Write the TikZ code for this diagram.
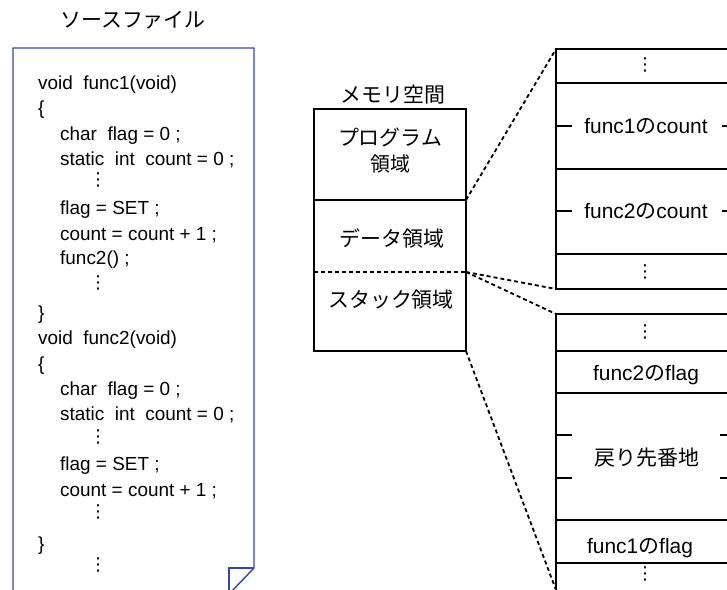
\documentclass[tikz,border=0pt]{standalone}
\usepackage{fontspec}
\setmainfont{Liberation Sans}
\newfontfamily\jp{Noto Sans CJK JP}
\newfontfamily\symf{DejaVu Sans}
\definecolor{pageblue}{RGB}{52,70,170}
\tikzset{
  box/.style={draw, line width=1.5bp},
  conn/.style={line width=1.8bp, dash pattern=on 4bp off 3bp},
  code/.style={anchor=base west, font=\fontsize{19}{19}\selectfont, inner sep=0pt},
  dts/.style={font=\symf\fontsize{18}{18}\selectfont, inner sep=0pt},
  jlabel/.style={font=\jp\fontsize{21}{21}\selectfont, inner sep=0pt},
  jsmall/.style={font=\jp\fontsize{20}{20}\selectfont, inner sep=0pt},
  cell/.style={font=\fontsize{21}{21}\selectfont, inner sep=0pt},
}
\begin{document}
\begin{tikzpicture}[x=1bp,y=-1bp]
\useasboundingbox (0,0) rectangle (727,590);
\clip (0,0) rectangle (727,590);

% source file page
\node[jlabel] (srctitle) at (133,20) {ソースファイル};
\draw[pageblue, line width=1.4bp] (13,600) -- (13,48) -- (254,48) -- (254,568) -- (231,592);
\draw[pageblue, line width=1.4bp] (229,600) -- (229,568) -- (254,568);

\node[code] (c1) at (38,90) {void\ \ func1(void)};
\node[code] (c2) at (38,115) {\{};
\node[code] (c3) at (60,141) {char\ \ flag = 0 ;};
\node[code] (c4) at (60,166) {static\ \ int\ \ count = 0 ;};
\node[dts] (d1) at (98,180) {⋮};
\node[code] (c5) at (60,215) {flag = SET ;};
\node[code] (c6) at (60,240) {count = count + 1 ;};
\node[code] (c7) at (60,264) {func2() ;};
\node[dts] (d2) at (98,283) {⋮};
\node[code] (c8) at (38,319) {\}};
\node[code] (c9) at (38,344) {void\ \ func2(void)};
\node[code] (c10) at (38,370) {\{};
\node[code] (c11) at (60,395) {char\ \ flag = 0 ;};
\node[code] (c12) at (60,420) {static\ \ int\ \ count = 0 ;};
\node[dts] (d3) at (98,437) {⋮};
\node[code] (c13) at (60,470) {flag = SET ;};
\node[code] (c14) at (60,496) {count = count + 1 ;};
\node[dts] (d4) at (98,512) {⋮};
\node[code] (c15) at (38,550) {\}};
\node[dts] (d5) at (98,565) {⋮};

% memory space
\node[jlabel] (memtitle) at (393,95) {メモリ空間};
\draw[box] (314,109) rectangle (466,351);
\draw[box] (314,200) -- (466,200);
\draw[conn] (314,272) -- (466,272);
\node[jlabel] (prog) at (390,137) {プログラム};
\node[jsmall] (progb) at (390,164) {領域};
\node[jlabel] (data) at (392,238) {データ領域};
\node[jlabel] (stack) at (391,300) {スタック領域};

\coordinate (m1) at (466,200);
\coordinate (m2) at (466,272);
\coordinate (m3) at (466,351);

% top right box
\draw[box] (556,49) rectangle (738,289);
\draw[box] (556,83) -- (738,83);
\draw[box] (556,169) -- (738,169);
\draw[box] (556,254) -- (738,254);
\foreach \yy in {126,211} {
  \draw[box] (556,\yy) -- (572,\yy);
  \draw[box] (722,\yy) -- (738,\yy);
}
\node[dts] (td1) at (645,65) {⋮};
\node[cell] (f1c) at (646,126) {func1{\jp の}count};
\node[cell] (f2c) at (646,211) {func2{\jp の}count};
\node[dts] (td2) at (645,272) {⋮};
\coordinate (t1) at (556,49);
\coordinate (t2) at (556,289);

% bottom right box
\draw[box] (556,600) -- (556,314) -- (738,314) -- (738,600);
\foreach \yy in {351,393,520,563} {
  \draw[box] (556,\yy) -- (738,\yy);
}
\foreach \yy in {435,478} {
  \draw[box] (556,\yy) -- (572,\yy);
  \draw[box] (720,\yy) -- (738,\yy);
}
\node[dts] (bd1) at (645,332) {⋮};
\node[cell] (f2f) at (646,375) {func2{\jp の}flag};
\node[jlabel] (ret) at (647,458) {戻り先番地};
\node[cell] (f1f) at (640,548) {func1{\jp の}flag};
\node[dts] (bd2) at (645,574) {⋮};
\coordinate (b1) at (556,314);
\coordinate (b2) at (556,590);

% connectors
\draw[conn] (m1) -- (t1);
\draw[conn] (m2) -- (t2);
\draw[conn] (m2) -- (b1);
\draw[conn] (m3) -- (b2);
\end{tikzpicture}
\end{document}
